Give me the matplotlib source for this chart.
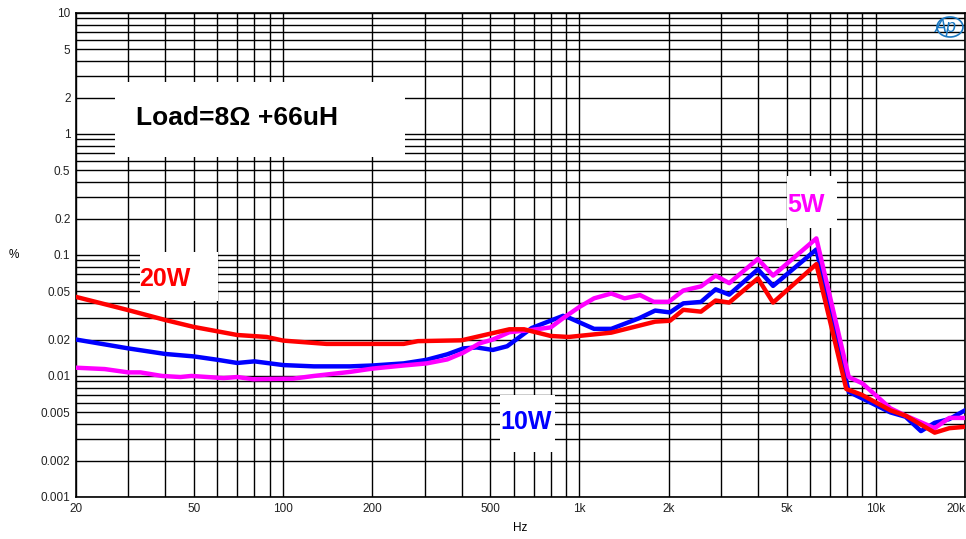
import matplotlib
matplotlib.use("Agg")
import matplotlib.pyplot as plt
from matplotlib.patches import Rectangle, Ellipse
from matplotlib.ticker import FixedLocator, LogLocator, NullFormatter

plt.rcParams['font.family'] = ['Liberation Sans', 'DejaVu Sans']

# 20W (red)
f_20w = [20, 30, 40, 50, 70, 88, 100, 140, 200, 255, 285, 400, 510, 580, 650,
         800, 920, 1280, 1800, 2020, 2240, 2570, 2880, 3200, 4000, 4500, 6300,
         7950, 8950, 11200, 12600, 15800, 17700, 20000]
thd_20w = [0.045, 0.035, 0.029, 0.0254, 0.0218, 0.021, 0.0196, 0.0184, 0.0184,
           0.0184, 0.0194, 0.0197, 0.0226, 0.0243, 0.0243, 0.0214, 0.021, 0.0228,
           0.0281, 0.0286, 0.0352, 0.034, 0.042, 0.0404, 0.064, 0.0404, 0.084,
           0.0078, 0.0070, 0.0052, 0.0047, 0.0034, 0.0037, 0.0038]

# 10W (blue)
f_10w = [20, 30, 40, 50, 60, 70, 80, 100, 127, 168, 200, 255, 305, 358, 406, 450,
         510, 570, 690, 880, 930, 1120, 1280, 1590, 1800, 2020, 2240, 2570, 2880,
         3200, 4000, 4500, 6300, 8100, 11200, 12600, 14200, 15800, 17700, 20000]
thd_10w = [0.020, 0.0169, 0.0152, 0.0145, 0.0136, 0.0128, 0.0132, 0.0123, 0.012,
           0.012, 0.0122, 0.0127, 0.0136, 0.0151, 0.0169, 0.0172, 0.0164, 0.0176,
           0.0249, 0.0314, 0.030, 0.0245, 0.0245, 0.030, 0.0347, 0.0335, 0.0398,
           0.0409, 0.052, 0.047, 0.076, 0.0555, 0.111, 0.0074, 0.0050, 0.0046,
           0.0035, 0.0041, 0.0044, 0.0052]

# 5W (magenta)
f_5w = [20, 25, 30, 33, 39, 45, 49, 63, 70, 79, 108, 127, 168, 200, 255, 305, 358,
        406, 460, 510, 580, 690, 800, 880, 1000, 1120, 1280, 1420, 1600, 1780,
        2000, 2240, 2570, 2880, 3200, 4000, 4500, 6300, 8100, 9000, 11200, 12600,
        15800, 17700, 20000]
thd_5w = [0.0117, 0.0114, 0.0107, 0.0107, 0.0100, 0.0098, 0.0100, 0.0096, 0.0098,
          0.0094, 0.0095, 0.0100, 0.0108, 0.0115, 0.0122, 0.0127, 0.0137, 0.0156,
          0.0186, 0.020, 0.023, 0.024, 0.0252, 0.030, 0.0372, 0.0438, 0.048,
          0.0438, 0.0466, 0.041, 0.041, 0.0508, 0.055, 0.0675, 0.0585, 0.0927,
          0.0675, 0.137, 0.0098, 0.0087, 0.0054, 0.0047, 0.0037, 0.0045, 0.0045]

x_ticks = [20, 50, 100, 200, 500, 1000, 2000, 5000, 10000, 20000]
x_labels = ['20', '50', '100', '200', '500', '1k', '2k', '5k', '10k', '20k']
y_ticks = [10, 5, 2, 1, 0.5, 0.2, 0.1, 0.05, 0.02, 0.01, 0.005, 0.002, 0.001]
y_labels = ['10', '5', '2', '1', '0.5', '0.2', '0.1', '0.05', '0.02', '0.01',
            '0.005', '0.002', '0.001']

fig = plt.figure(figsize=(9.66, 5.39), dpi=100)
ax = fig.add_axes([0.0787, 0.078, 0.9203, 0.898])
ax.set_xscale('log')
ax.set_yscale('log')
ax.set_xlim(20, 20000)
ax.set_ylim(0.001, 10)

ax.xaxis.set_major_locator(FixedLocator(x_ticks))
ax.set_xticklabels(x_labels)
ax.get_xticklabels()[-1].set_horizontalalignment('right')
ax.xaxis.set_minor_locator(LogLocator(base=10, subs=range(1, 10), numticks=20))
ax.xaxis.set_minor_formatter(NullFormatter())
ax.yaxis.set_major_locator(FixedLocator(y_ticks))
ax.set_yticklabels(y_labels)
ax.yaxis.set_minor_locator(LogLocator(base=10, subs=range(1, 10), numticks=20))
ax.yaxis.set_minor_formatter(NullFormatter())
ax.tick_params(which='both', length=0, labelsize=8.5, colors='#222222', pad=4)

ax.grid(True, which='both', color='black', linewidth=1.0)
ax.set_axisbelow(True)
for s in ax.spines.values():
    s.set_color('black')
    s.set_linewidth(1.2)

# white label boxes (pixel-based layout in axes fraction)
W, H = 966.0, 539.0
x0, x1, y0, y1 = 76.0, 965.0, 13.0, 497.0


def box(px0, py0, px1, py1):
    ax.add_patch(Rectangle(((px0 - x0) / (x1 - x0), 1 - (py1 - y0) / (y1 - y0)),
                           (px1 - px0) / (x1 - x0), (py1 - py0) / (y1 - y0),
                           transform=ax.transAxes, facecolor='white',
                           edgecolor='none', zorder=1.5))


def label(px, py, s, color, size=18):
    ax.text((px - x0) / (x1 - x0), 1 - (py - y0) / (y1 - y0), s, color=color,
            transform=ax.transAxes, fontsize=size, fontweight='bold',
            ha='left', va='center', zorder=5)


box(115, 82, 405, 157)
box(140, 252, 218, 301)
box(500, 395, 555, 452)
box(787, 176, 837, 228)

ax.plot(f_10w, thd_10w, color='#0000ff', lw=3.2, zorder=3)
ax.plot(f_5w, thd_5w, color='#ff00ff', lw=3.2, zorder=3.1)
ax.plot(f_20w, thd_20w, color='#ff0000', lw=3.2, zorder=3.2)

label(136, 118, 'Load=8Ω +66uH', 'black', 19)
label(139, 279, '20W', '#ff0000')
label(500, 422, '10W', '#0000ff')
label(787, 205, '5W', '#ff00ff')

fig.text(14 / W, 1 - 255 / H, '%', fontsize=8.5, ha='center', va='center')
fig.text(520 / W, 1 - 528 / H, 'Hz', fontsize=8.5, ha='center', va='center')

# AP logo
fig.text(946 / W, 1 - 27 / H, 'Ap', fontsize=13, style='italic', color='#1a78c2',
         ha='center', va='center')
fig.add_artist(Ellipse((950 / W, 1 - 27 / H), 26 / W, 20 / H, fill=False,
                       edgecolor='#1a78c2', lw=1.2, transform=fig.transFigure))

fig.savefig('out.png', dpi=100)
